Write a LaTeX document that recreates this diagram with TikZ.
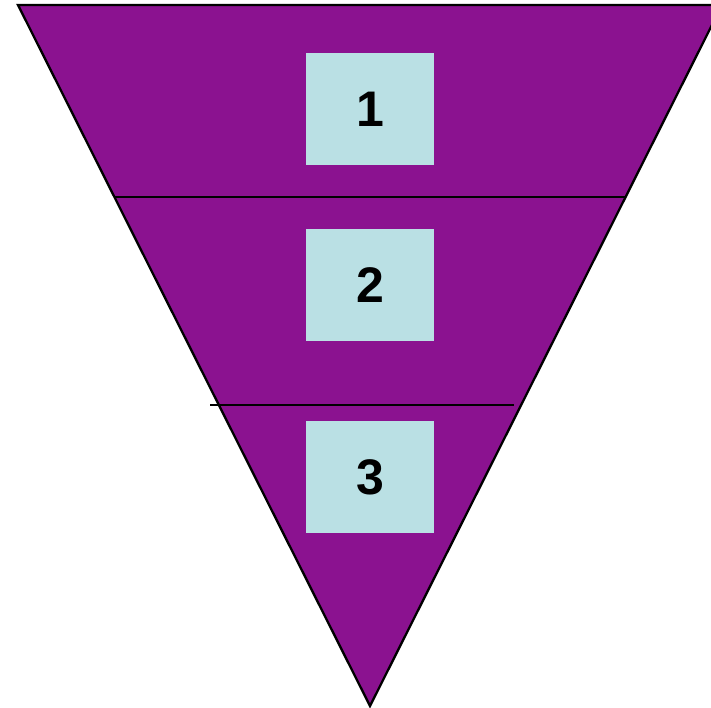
\documentclass[tikz,border=0pt]{standalone}
\usepackage{fontspec}
\setmainfont{Liberation Sans}
\definecolor{funnel}{HTML}{8B1290}
\definecolor{boxblue}{HTML}{BAE0E4}
\begin{document}
\begin{tikzpicture}[x=1pt,y=-1pt,
  numbox/.style={fill=boxblue,draw=none,minimum width=128pt,minimum height=112pt,inner sep=0pt,font=\fontsize{50}{50}\selectfont\bfseries,text=black},
  divider/.style={draw=black,line width=2pt}]
\useasboundingbox (0,0) rectangle (711,708);
\clip (0,0) rectangle (711,708);
\coordinate (tl) at (18,5);
\coordinate (tr) at (722,5);
\coordinate (bt) at (370,706);
\fill[funnel] (tl) -- (tr) -- (bt) -- cycle;
\draw[line width=2.3pt,line join=miter] (tl) -- (tr) -- (bt) -- cycle;
\coordinate (d1l) at (115,197);
\coordinate (d1r) at (626,197);
\coordinate (d2l) at (210,405);
\coordinate (d2r) at (514,405);
\draw[divider] (d1l) -- (d1r);
\draw[divider] (d2l) -- (d2r);
\node[numbox] (b1) at (370,109) {1};
\node[numbox] (b2) at (370,285) {2};
\node[numbox] (b3) at (370,477) {3};
\end{tikzpicture}
\end{document}
